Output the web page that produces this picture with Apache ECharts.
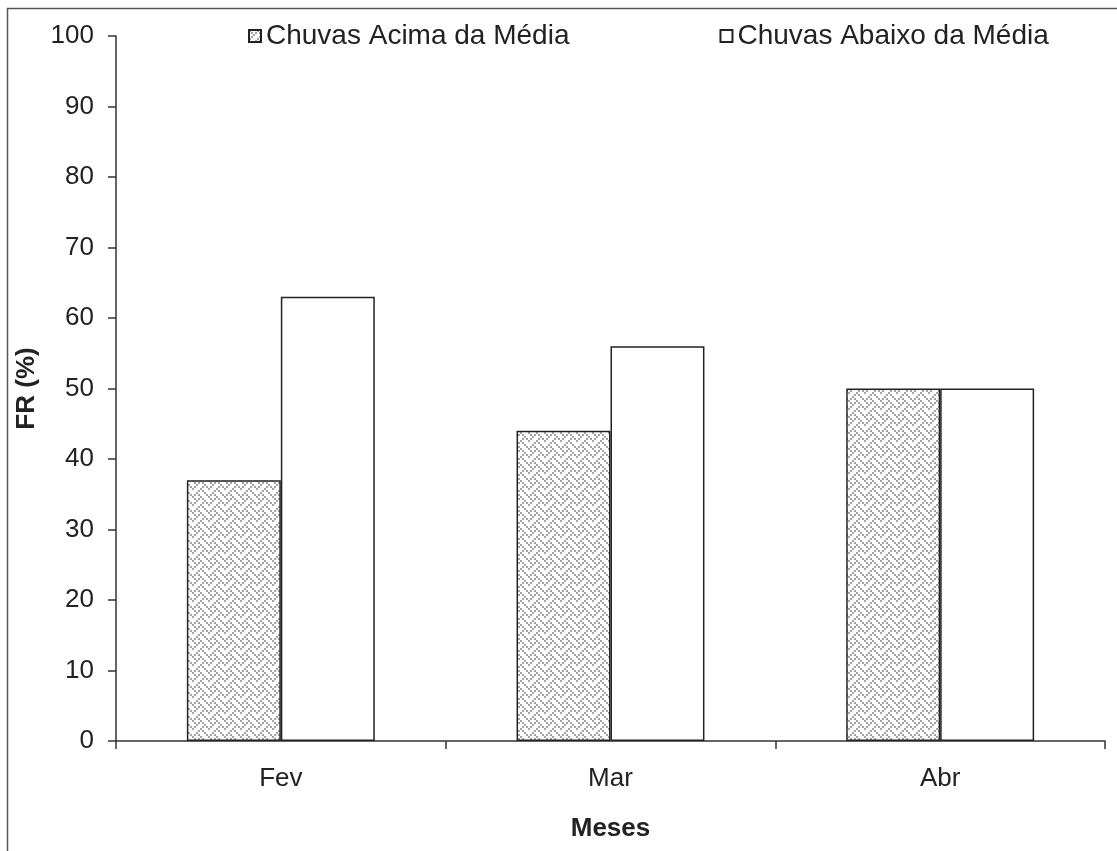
<!DOCTYPE html>
<html>
<head>
<meta charset="utf-8">
<script src="https://cdn.jsdelivr.net/npm/echarts@6/dist/echarts.min.js"></script>
<style>
  html, body { margin: 0; padding: 0; background: #fff; }
  #chart { width: 1117px; height: 851px; }
</style>
</head>
<body>
<div id="chart"></div>
<script>
// Monthly frequency (%) of rain above / below average
const categories = ['Fev', 'Mar', 'Abr'];
const seriesNames = ['Chuvas Acima da Média', 'Chuvas Abaixo da Média'];
const acimaDaMedia = [37, 44, 50];
const abaixoDaMedia = [63, 56, 50];
const yTicks = [0, 10, 20, 30, 40, 50, 60, 70, 80, 90, 100];

// Woven hatch fill (8x8 bitmap, each bit drawn as a 2x2 block)
function makeWeave() {
  const bits = [0x88, 0x54, 0x22, 0x45, 0x88, 0x14, 0x22, 0x51];
  const s = 2;
  const c = document.createElement('canvas');
  c.width = 8 * s; c.height = 8 * s;
  const g = c.getContext('2d');
  g.fillStyle = '#ffffff';
  g.fillRect(0, 0, c.width, c.height);
  g.fillStyle = '#a4a4a4';
  for (let y = 0; y < 8; y++) {
    for (let x = 0; x < 8; x++) {
      if (bits[y] & (0x80 >> x)) g.fillRect(x * s, y * s, s, s);
    }
  }
  return c;
}
const weave = { image: makeWeave(), repeat: 'repeat' };

const font = '"Liberation Sans", Arial, sans-serif';
const chart = echarts.init(document.getElementById('chart'), null, { renderer: 'canvas' });

chart.setOption({
  animation: false,
  backgroundColor: '#ffffff',
  textStyle: { fontFamily: font },
  graphic: [{
    type: 'rect',
    shape: { x: 7.5, y: 8.5, width: 1130, height: 870 },
    style: { fill: 'none', stroke: '#555', lineWidth: 1.5 },
    silent: true
  }],
  legend: {
    left: 243,
    top: 17,
    icon: 'rect',
    itemWidth: 12,
    itemHeight: 12,
    itemGap: 150,
    textStyle: { fontSize: 28, color: '#222', fontFamily: font },
    data: seriesNames
  },
  grid: { left: 116, right: 12, top: 36, bottom: 110 },
  xAxis: {
    type: 'category',
    data: categories,
    name: 'Meses',
    nameLocation: 'middle',
    nameGap: 75,
    nameTextStyle: { fontSize: 26, fontWeight: 'bold', color: '#222', fontFamily: font },
    axisLine: { lineStyle: { color: '#333', width: 1.5 } },
    axisTick: { show: true, length: 8, interval: 0, alignWithLabel: false, lineStyle: { color: '#333', width: 1.5 } },
    axisLabel: { fontSize: 26, color: '#222', margin: 25, fontFamily: font }
  },
  yAxis: {
    type: 'value',
    min: 0,
    max: 100,
    interval: 10,
    name: 'FR (%)',
    nameLocation: 'middle',
    nameGap: 75,
    nameTextStyle: { fontSize: 26, fontWeight: 'bold', color: '#222', fontFamily: font },
    axisLine: { show: true, lineStyle: { color: '#333', width: 1.5 } },
    axisTick: { show: true, length: 8, lineStyle: { color: '#333', width: 1.5 } },
    axisLabel: {
      fontSize: 26, color: '#222', margin: 22, fontFamily: font,
      formatter: v => (yTicks.indexOf(v) >= 0 ? String(v) : '')
    },
    splitLine: { show: false }
  },
  series: [
    {
      name: seriesNames[0],
      type: 'bar',
      data: acimaDaMedia,
      barGap: '0%',
      barCategoryGap: '43%',
      itemStyle: { color: weave, borderColor: '#222', borderWidth: 1.5 }
    },
    {
      name: seriesNames[1],
      type: 'bar',
      data: abaixoDaMedia,
      barGap: '0%',
      barCategoryGap: '43%',
      itemStyle: { color: '#ffffff', borderColor: '#222', borderWidth: 1.5 }
    }
  ]
});
</script>
</body>
</html>
